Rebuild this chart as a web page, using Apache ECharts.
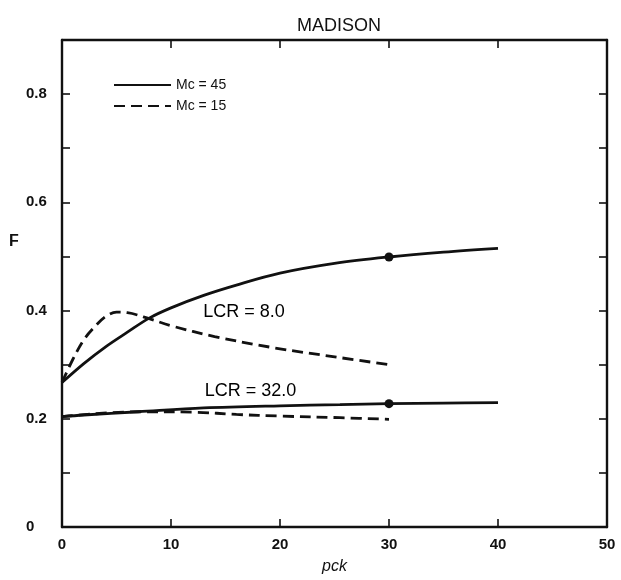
<!DOCTYPE html>
<html>
<head>
<meta charset="utf-8">
<script src="https://cdn.jsdelivr.net/npm/echarts@6/dist/echarts.min.js"></script>
<style>html,body{margin:0;padding:0;background:#fff;}#c{width:621px;height:580px;}</style>
</head>
<body>
<div id="c"></div>
<script>
var titleText = 'MADISON';
var xName = 'pck';
var yName = 'F';
var legendNames = ['Mc = 45', 'Mc = 15'];
var xTicks = [0, 10, 20, 30, 40, 50];
var yTicks = [0, 0.2, 0.4, 0.6, 0.8];

// LCR = 8.0
var lcr8SolidX = [0, 2, 4, 6, 8, 10, 13, 16, 20, 25, 30, 35, 40];
var lcr8SolidY = [0.267, 0.302, 0.333, 0.360, 0.386, 0.405, 0.428, 0.447, 0.469, 0.487, 0.499, 0.508, 0.515];
var lcr8DashX = [0, 1, 2, 3, 4, 5, 6, 8, 10, 14, 19.5, 25.5, 30];
var lcr8DashY = [0.267, 0.310, 0.346, 0.370, 0.389, 0.397, 0.396, 0.385, 0.372, 0.352, 0.331, 0.313, 0.300];
// LCR = 32.0
var lcr32SolidX = [0, 2, 7, 13, 20, 25.5, 30, 35, 40];
var lcr32SolidY = [0.204, 0.207, 0.213, 0.220, 0.224, 0.226, 0.228, 0.229, 0.230];
var lcr32DashX = [0, 7, 12.4, 16, 20, 25.5, 30];
var lcr32DashY = [0.204, 0.213, 0.212, 0.208, 0.205, 0.202, 0.199];

var markerX = 30;
var annotations = [
  {text: 'LCR = 8.0', x: 16.7, y: 0.397},
  {text: 'LCR = 32.0', x: 17.3, y: 0.251}
];

function pairs(xs, ys, mark) {
  return xs.map(function (x, i) {
    if (mark && x === markerX) {
      return {value: [x, ys[i]], symbol: 'circle', symbolSize: 9};
    }
    return [x, ys[i]];
  });
}

var FONT = 'Liberation Sans';
var chart = echarts.init(document.getElementById('c'), null, {renderer: 'canvas'});

var baseLine = {type: 'line', smooth: 0.35, symbol: 'none', showSymbol: true, color: '#111', z: 3};
function mkSeries(name, xs, ys, dashed, mark) {
  return Object.assign({}, baseLine, {
    name: name,
    data: pairs(xs, ys, mark),
    lineStyle: {color: '#111', width: 2.8, type: dashed ? [11, 6] : 'solid'},
    itemStyle: {color: '#111'}
  });
}

var series = [
  mkSeries(legendNames[0], lcr8SolidX, lcr8SolidY, false, true),
  mkSeries(legendNames[1], lcr8DashX, lcr8DashY, true, false),
  mkSeries(legendNames[0], lcr32SolidX, lcr32SolidY, false, true),
  mkSeries(legendNames[1], lcr32DashX, lcr32DashY, true, false),
  {
    type: 'scatter', symbolSize: 1, silent: true, z: 4,
    itemStyle: {color: 'rgba(0,0,0,0)'},
    data: annotations.map(function (a) { return {value: [a.x, a.y], name: a.text}; }),
    label: {show: true, position: 'inside', formatter: '{b}', color: '#000', opacity: 1, fontFamily: FONT, fontSize: 18}
  }
];

var axisLineStyle = {color: '#111', width: 2.4};
var tickStyle = {show: true, inside: true, length: 8, lineStyle: {color: '#111', width: 1.6}};
chart.setOption({
  animation: false,
  backgroundColor: '#fff',
  title: {text: titleText, left: 334, textAlign: 'center', top: 12,
    textStyle: {fontFamily: FONT, fontSize: 18, fontWeight: 'normal', color: '#111'}},
  legend: {
    data: legendNames, orient: 'vertical', left: 108, top: 73, itemWidth: 57, itemHeight: 14, itemGap: 7,
    itemStyle: {opacity: 0},
    textStyle: {fontFamily: FONT, fontSize: 14, color: '#111'}, selectedMode: false
  },
  graphic: [{
    type: 'text', left: 9, top: 234,
    style: {text: yName, fontFamily: FONT, fontSize: 16, fontWeight: 'bold', fill: '#111'}
  }],
  grid: {left: 62, right: 14, top: 40, bottom: 52},
  xAxis: [{
    type: 'value', min: 0, max: 50, interval: 10, position: 'bottom',
    name: xName, nameLocation: 'middle', nameGap: 32,
    nameTextStyle: {fontFamily: FONT, fontSize: 16, fontStyle: 'italic', color: '#111'},
    axisLine: {show: true, onZero: false, lineStyle: axisLineStyle},
    axisTick: tickStyle,
    axisLabel: {fontFamily: FONT, fontSize: 15, fontWeight: 'bold', color: '#111', margin: 10,
      formatter: function (v) { return xTicks.indexOf(v) >= 0 ? String(v) : ''; }},
    splitLine: {show: false}
  }, {
    type: 'value', min: 0, max: 50, interval: 10, position: 'top',
    axisLine: {show: true, onZero: false, lineStyle: axisLineStyle},
    axisTick: tickStyle,
    axisLabel: {show: false}, splitLine: {show: false}
  }],
  yAxis: [{
    type: 'value', min: 0, max: 0.9, interval: 0.1, position: 'left',
    axisLine: {show: true, onZero: false, lineStyle: axisLineStyle},
    axisTick: tickStyle,
    axisLabel: {fontFamily: FONT, fontSize: 15, fontWeight: 'bold', color: '#111', margin: 36, align: 'left',
      formatter: function (v) {
        var r = Math.round(v * 10) / 10;
        for (var i = 0; i < yTicks.length; i++) { if (Math.abs(yTicks[i] - r) < 1e-9) return r === 0 ? '0' : r.toFixed(1); }
        return '';
      }},
    splitLine: {show: false}
  }, {
    type: 'value', min: 0, max: 0.9, interval: 0.1, position: 'right',
    axisLine: {show: true, onZero: false, lineStyle: axisLineStyle},
    axisTick: tickStyle,
    axisLabel: {show: false}, splitLine: {show: false}
  }],
  series: series
});
</script>
</body>
</html>
